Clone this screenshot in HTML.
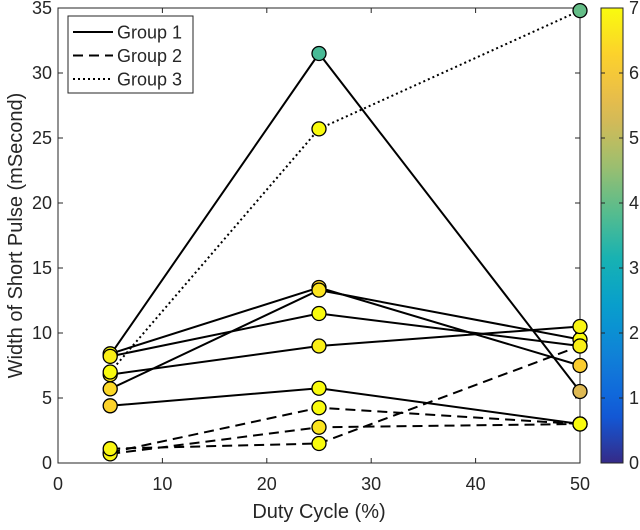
<!DOCTYPE html>
<html><head><meta charset="utf-8"><style>
body{margin:0;background:#fff}
svg text{font-family:"Liberation Sans",sans-serif;fill:#262626}
</style></head><body>
<svg id="c" width="640" height="525" viewBox="0 0 640 525"></svg>
<script>
const xCats=[5,25,50];
const s1=[8.3,31.5,5.5], c1=[7,3.7,5.4];
const s2=[8.4,13.5,7.5], c2=[7,6.3,6.2];
const s3=[5.7,13.3,9.5], c3=[6.4,6.6,7];
const s4=[8.2,11.5,9.0], c4=[6.8,7,7];
const s5=[6.8,9.0,10.5], c5=[6.7,6.8,6.9];
const s6=[4.4,5.75,3.0], c6=[6.3,7,7];
const s7=[0.8,4.25,3.0], c7=[7,7,7];
const s8=[0.7,2.75,3.0], c8=[6.9,6.6,7];
const s9=[1.1,1.5,9.0], c9=[6.9,7,6.8];
const s10=[7.0,25.7,34.8], c10=[7,7,4.0];
const series=[s1,s2,s3,s4,s5,s6,s7,s8,s9,s10];
const colors=[c1,c2,c3,c4,c5,c6,c7,c8,c9,c10];
const groups=[1,1,1,1,1,1,2,2,2,3];
const xTicks=[0,10,20,30,40,50];
const yTicks=[0,5,10,15,20,25,30,35];
const cbTicks=[0,1,2,3,4,5,6,7];
const legendLabels=["Group 1","Group 2","Group 3"];

const L=58,R=580,T=8,B=463;
const xs=v=>L+(v/50)*(R-L);
const ys=v=>B-(v/35)*(B-T);
const cs=v=>B-(v/7)*(B-T);
const stops=[[53,42,135],[15,92,221],[18,125,216],[7,156,207],[21,177,180],[89,189,140],[165,190,107],[225,185,82],[252,206,46],[249,251,14]];
function parula(v){let f=Math.max(0,Math.min(1,v/7))*(stops.length-1);let i=Math.min(Math.floor(f),stops.length-2),t=f-i;
 const a=stops[i],b=stops[i+1];return `rgb(${a.map((x,k)=>Math.round(x+(b[k]-x)*t)).join(',')})`;}
const svg=document.getElementById('c');const NS='http://www.w3.org/2000/svg';
function mk(tag,attrs,parent){const e=document.createElementNS(NS,tag);for(const k in attrs)e.setAttribute(k,attrs[k]);(parent||svg).appendChild(e);return e;}
const dash={1:'none',2:'10,6',3:'2,3'};

let ax=mk('rect',{x:L,y:T,width:R-L,height:B-T,fill:'#fff',stroke:'#262626','stroke-width':1});


xTicks.forEach(v=>{
 mk('line',{x1:xs(v),x2:xs(v),y1:B,y2:B-5,stroke:'#262626'});mk('line',{x1:xs(v),x2:xs(v),y1:T,y2:T+5,stroke:'#262626'});
 const t=mk('text',{x:xs(v),y:B+27,'font-size':18,'text-anchor':'middle'});t.textContent=v;
 
 
});
yTicks.forEach(v=>{
 mk('line',{x1:L,x2:L+5,y1:ys(v),y2:ys(v),stroke:'#262626'});mk('line',{x1:R,x2:R-5,y1:ys(v),y2:ys(v),stroke:'#262626'});
 const t=mk('text',{x:L-6,y:ys(v)+6,'font-size':18,'text-anchor':'end'});t.textContent=v;
 
 
});
series.forEach((s,i)=>{
 const p=mk('polyline',{points:s.map((v,j)=>xs(xCats[j])+','+ys(v)).join(' '),fill:'none',stroke:'#000','stroke-width':2,'stroke-dasharray':dash[groups[i]]});
 
 
});
series.forEach((s,i)=>{s.forEach((v,j)=>{
 const c=mk('circle',{cx:xs(xCats[j]),cy:ys(v),r:7,fill:parula(colors[i][j]),stroke:'#000','stroke-width':1.3});
 
 
});});
// legend
const lg=mk('g',{});


mk('rect',{x:68,y:16,width:125,height:77,fill:'#fff',stroke:'#262626'},lg);
legendLabels.forEach((lab,i)=>{const y=32+i*23.5;
 mk('line',{x1:73,x2:113,y1:y,y2:y,stroke:'#000','stroke-width':2,'stroke-dasharray':dash[i+1]},lg);
 const t=mk('text',{x:117,y:y+6.5,'font-size':18},lg);t.textContent=lab;
 
 
});
// colorbar
const defs=mk('defs',{});const gr=mk('linearGradient',{id:'pg',x1:0,y1:1,x2:0,y2:0},defs);
for(let k=0;k<=20;k++)mk('stop',{offset:k/20,'stop-color':parula(7*k/20)},gr);
const cb=mk('rect',{x:601,y:T,width:22,height:B-T,fill:'url(#pg)',stroke:'#262626'});


cbTicks.forEach(v=>{mk('line',{x1:601,x2:605,y1:cs(v),y2:cs(v),stroke:'#262626'});mk('line',{x1:623,x2:619,y1:cs(v),y2:cs(v),stroke:'#262626'});
 const t=mk('text',{x:629,y:cs(v)+6,'font-size':18});t.textContent=v;
 
 
});
const xt=mk('text',{x:(L+R)/2,y:518,'font-size':20,'text-anchor':'middle'});xt.textContent='Duty Cycle (%)';


const yt=mk('text',{x:0,y:0,'font-size':20,'text-anchor':'middle',transform:`translate(22,${(T+B)/2}) rotate(-90)`});yt.textContent='Width of Short Pulse (mSecond)';


</script>
</body></html>
